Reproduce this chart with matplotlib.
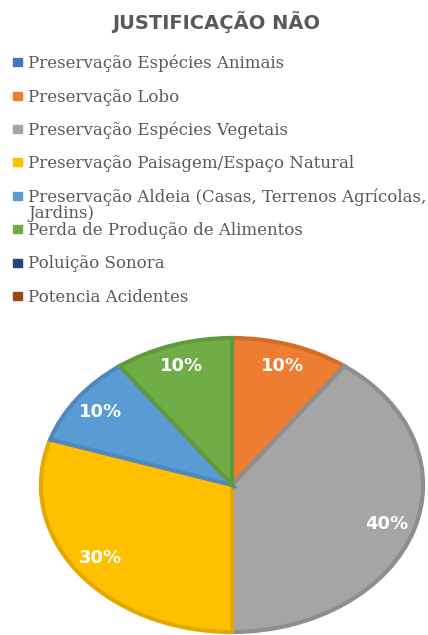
import matplotlib.pyplot as plt
from matplotlib.patches import Rectangle

# dados
categorias = ['Preservação Espécies Animais',
              'Preservação Lobo',
              'Preservação Espécies Vegetais',
              'Preservação Paisagem/Espaço Natural',
              'Preservação Aldeia (Casas, Terrenos Agrícolas,\nJardins)',
              'Perda de Produção de Alimentos',
              'Poluição Sonora',
              'Potencia Acidentes']
valores = [0, 10, 40, 30, 10, 10, 0, 0]
cores = ['#4472C4', '#ED7D31', '#A5A5A5', '#FFC000',
         '#5B9BD5', '#70AD47', '#264478', '#9E480E']
bordas = ['#3A62A8', '#D36C28', '#8E8E8E', '#E2AA00',
          '#4D88BF', '#619A3C', '#1F3A66', '#86400C']

W, H = 428, 635
fig = plt.figure(figsize=(W / 100, H / 100), dpi=100)

# título
fig.text(216 / W, 1 - 22 / H, 'JUSTIFICAÇÃO NÃO', ha='center', va='center',
         fontsize=14, fontweight='bold', color='#595959', family='DejaVu Sans')

# legenda (manual)
base_y = [68, 101.5, 135, 168, 201.5, 235, 268.5, 302]
for cat, cor, by in zip(categorias, cores, base_y):
    fig.patches.append(Rectangle((13 / W, 1 - (by - 2) / H), 9 / W, 8 / H,
                                 transform=fig.transFigure, color=cor))
    n = cat.count('\n')
    fig.text(28 / W, 1 - (by + 16.5 * n) / H, cat, ha='left', va='baseline',
             fontsize=12, color='#595959', family='DejaVu Serif', linespacing=0.95)

# pizza (só fatias > 0)
vals = [v for v in valores if v > 0]
cs = [c for v, c in zip(valores, cores) if v > 0]
es = [e for v, e in zip(valores, bordas) if v > 0]

ax = fig.add_axes([37 / W, 0, 390 / W, 300 / H])
wedges, texts, autotexts = ax.pie(vals, colors=cs, startangle=90, counterclock=False,
                                  radius=0.98, autopct='%1.0f%%', pctdistance=0.85,
                                  wedgeprops=dict(linewidth=3))
for w, e in zip(wedges, es):
    w.set_edgecolor(e)
for t in autotexts:
    t.set_color('white')
    t.set_fontweight('bold')
    t.set_fontsize(13)
ax.set_aspect('auto')
ax.set_xlim(-1, 1)
ax.set_ylim(-1, 1)

fig.savefig('out.png', dpi=100)
